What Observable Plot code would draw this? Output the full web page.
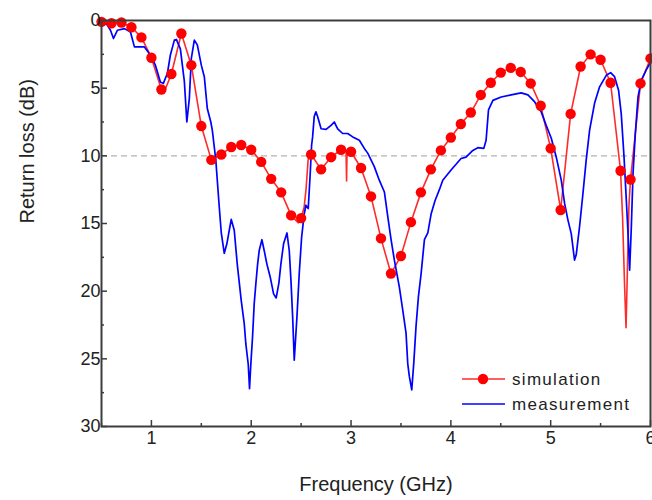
<!DOCTYPE html>
<html>
<head>
<meta charset="utf-8">
<script src="https://cdn.jsdelivr.net/npm/d3@7"></script>
<script src="https://cdn.jsdelivr.net/npm/@observablehq/plot@0.6"></script>
<style>
  html, body { margin: 0; padding: 0; background: #fff; }
  #wrap { position: relative; width: 652px; height: 500px; font-family: "Liberation Sans", Arial, sans-serif; }
  #legend { position: absolute; left: 0; top: 0; pointer-events: none; }
</style>
</head>
<body>
<div id="wrap"></div>
<script>
// ---- data ----
const xTicks = [1, 2, 3, 4, 5, 6];
const xMinor = [0.5, 1.5, 2.5, 3.5, 4.5, 5.5];
const yTicks = [0, 5, 10, 15, 20, 25, 30];
const yMinor = [2.5, 7.5, 12.5, 17.5, 22.5, 27.5];
const threshold = [10];

// simulation markers (every 0.1 GHz)
const simFreq = [0.5,0.6,0.7,0.8,0.9,1.0,1.1,1.2,1.3,1.4,1.5,1.6,1.7,1.8,1.9,2.0,2.1,2.2,2.3,2.4,2.5,2.6,2.7,2.8,2.9,3.0,3.1,3.2,3.3,3.4,3.5,3.6,3.7,3.8,3.9,4.0,4.1,4.2,4.3,4.4,4.5,4.6,4.7,4.8,4.9,5.0,5.1,5.2,5.3,5.4,5.5,5.6,5.7,5.8,5.9,6.0];
const simLoss = [0.1,0.2,0.15,0.5,1.25,2.75,5.1,3.95,0.96,3.3,7.8,10.3,9.9,9.35,9.2,9.55,10.45,11.7,12.7,14.4,14.6,9.9,11.0,10.1,9.55,9.7,10.9,13.0,16.1,18.7,17.4,14.9,12.7,11.0,9.6,8.65,7.65,6.8,5.5,4.6,3.85,3.5,3.8,4.65,6.3,9.45,14.0,6.9,3.4,2.5,2.9,4.6,11.1,11.75,4.65,2.8];
// extra simulation curve points between markers
const simExtraFreq = [1.13,2.47,2.53,2.55,2.57,2.95,2.955,2.96,5.72,5.74,5.755,5.77,5.785];
const simExtraLoss = [5.25,14.95,13.8,12.4,10.3,9.6,11.85,9.62,14.5,19.5,22.7,18.0,13.5];

// measurement
const measFreq = [0.5,0.55,0.59,0.62,0.66,0.73,0.79,0.83,0.93,0.99,1.04,1.09,1.12,1.16,1.19,1.23,1.25,1.29,1.33,1.355,1.38,1.40,1.43,1.46,1.50,1.53,1.56,1.595,1.61,1.645,1.68,1.70,1.73,1.756,1.78,1.80,1.83,1.86,1.90,1.93,1.946,1.97,1.983,1.996,2.013,2.03,2.047,2.064,2.08,2.107,2.13,2.157,2.19,2.224,2.25,2.277,2.297,2.324,2.358,2.381,2.398,2.415,2.431,2.458,2.481,2.505,2.531,2.548,2.571,2.591,2.605,2.615,2.631,2.648,2.665,2.70,2.75,2.80,2.832,2.866,2.916,2.966,3.017,3.083,3.133,3.167,3.233,3.283,3.334,3.368,3.401,3.434,3.484,3.518,3.551,3.568,3.584,3.608,3.628,3.651,3.675,3.702,3.735,3.769,3.802,3.842,3.885,3.919,4.002,4.102,4.152,4.22,4.27,4.33,4.353,4.377,4.421,4.504,4.604,4.704,4.772,4.838,4.905,4.955,5.006,5.056,5.106,5.139,5.173,5.206,5.239,5.256,5.289,5.323,5.356,5.39,5.44,5.49,5.557,5.60,5.64,5.68,5.707,5.735,5.758,5.775,5.791,5.808,5.825,5.848,5.875,5.908,5.958,6.0];
const measLoss = [0.3,0.25,0.72,1.33,0.72,0.6,0.85,1.95,1.95,2.55,3.3,4.55,4.65,3.9,2.55,1.45,1.4,2.1,4.5,7.5,5.75,2.8,1.45,1.8,3.3,4.15,6.5,7.5,8.1,10.3,13.8,15.7,17.2,16.5,15.5,14.7,15.5,18.0,20.7,22.4,23.9,25.4,27.2,25.4,23.4,20.9,19.4,18.0,17.0,16.2,17.0,18.0,18.95,20.2,20.5,19.4,18.0,16.5,15.7,17.0,19.2,21.9,25.1,21.9,18.7,16.0,14.3,13.65,13.9,11.3,9.2,8.6,7.1,6.75,7.1,8.0,8.05,7.75,7.5,8.0,8.35,8.35,8.6,8.85,9.45,9.8,10.8,11.8,12.67,14.5,16.2,17.7,19.7,21.4,23.1,25.35,26.3,27.3,25.35,22.6,20.4,18.7,16.2,15.7,14.3,13.3,12.5,11.8,11.05,10.2,10.1,9.6,9.4,9.45,8.85,6.6,5.9,5.65,5.5,5.35,5.5,6.0,6.75,7.75,8.7,10.1,11.8,13.5,14.75,15.75,17.7,17.3,15.25,12.8,10.3,8.1,6.1,4.9,4.05,3.85,4.15,5.15,6.9,10.1,13.3,15.75,18.45,15.25,11.3,8.35,5.65,4.4,3.65,3.1];

const seriesNames = ["simulation", "measurement"];
const xLabel = "Frequency (GHz)";
const yLabel = "Return loss (dB)";

// ---- tables ----
const simPts = simFreq.map((f, i) => ({f, v: simLoss[i]}));
const simLine = simPts.concat(simExtraFreq.map((f, i) => ({f, v: simExtraLoss[i]})))
  .sort((a, b) => a.f - b.f);
const meas = measFreq.map((f, i) => ({f, v: measLoss[i]}));

const RED = "#ff0000", BLUE = "#0000ff", AX = "#3c3c3c";
const blank = () => "";

const chart = Plot.plot({
  width: 652,
  height: 500,
  marginLeft: 101,
  marginRight: 2,
  marginTop: 20,
  marginBottom: 74,
  style: {fontFamily: "'Liberation Sans', Arial, sans-serif", fontSize: "18px", color: "#222", background: "#fff", overflow: "visible"},
  x: {domain: [0.5, 6]},
  y: {domain: [0, 30], reverse: true},
  marks: [
    Plot.ruleY(threshold, {stroke: "#b4b4b4", strokeWidth: 1.3, strokeDasharray: "6,4"}),
    Plot.line(simLine, {x: "f", y: "v", stroke: "#ff2a2a", strokeWidth: 1.6}),
    Plot.line(meas, {x: "f", y: "v", stroke: BLUE, strokeWidth: 1.7}),
    Plot.dot(simPts, {x: "f", y: "v", r: 5.2, fill: RED, stroke: "none"}),
    Plot.axisX({ticks: xTicks, tickSize: -6, tickPadding: 11, tickFormat: d => String(d), label: null, stroke: AX, strokeWidth: 1.5, fontSize: 18, fill: "#222"}),
    Plot.axisX({ticks: xMinor, tickSize: -3, tickFormat: blank, label: null, stroke: AX, strokeWidth: 1.5}),
    Plot.axisY({ticks: yTicks, tickSize: -6, tickPadding: 7, tickFormat: d => String(d), label: null, stroke: AX, strokeWidth: 1.5, fontSize: 18, fill: "#222"}),
    Plot.axisY({ticks: yMinor, tickSize: -3, tickFormat: blank, label: null, stroke: AX, strokeWidth: 1.5}),
    Plot.frame({stroke: AX, strokeWidth: 2}),
    Plot.text([xLabel], {frameAnchor: "bottom", dy: 58, text: d => d, fontSize: 20, fill: "#222", lineAnchor: "middle"}),
    Plot.text([yLabel], {frameAnchor: "left", dx: -74, rotate: -90, text: d => d, fontSize: 20, fill: "#222", lineAnchor: "middle"})
  ]
});

const wrap = document.getElementById("wrap");
wrap.appendChild(chart);

// legend overlay (inside plot area, bottom right)
const ns = "http://www.w3.org/2000/svg";
const leg = document.createElementNS(ns, "svg");
leg.setAttribute("id", "legend");
leg.setAttribute("width", 652);
leg.setAttribute("height", 500);
const items = [
  {name: seriesNames[0], color: RED, dot: true, y: 379},
  {name: seriesNames[1], color: BLUE, dot: false, y: 404}
];
for (const it of items) {
  const ln = document.createElementNS(ns, "line");
  ln.setAttribute("x1", 462); ln.setAttribute("x2", 505);
  ln.setAttribute("y1", it.y); ln.setAttribute("y2", it.y);
  ln.setAttribute("stroke", it.dot ? "#ff2a2a" : it.color);
  ln.setAttribute("stroke-width", 1.6);
  leg.appendChild(ln);
  if (it.dot) {
    const c = document.createElementNS(ns, "circle");
    c.setAttribute("cx", 483); c.setAttribute("cy", it.y); c.setAttribute("r", 5.2);
    c.setAttribute("fill", it.color);
    leg.appendChild(c);
  }
  const t = document.createElementNS(ns, "text");
  t.setAttribute("x", 512); t.setAttribute("y", it.y + 6);
  t.setAttribute("font-size", 17);
  t.setAttribute("letter-spacing", 1.3);
  t.setAttribute("fill", "#222");
  t.setAttribute("font-family", "'Liberation Sans', Arial, sans-serif");
  t.textContent = it.name;
  leg.appendChild(t);
}
wrap.appendChild(leg);
</script>
</body>
</html>
